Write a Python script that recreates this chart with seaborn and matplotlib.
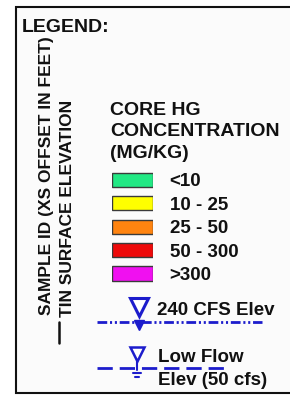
import matplotlib
matplotlib.use('Agg')
import matplotlib.pyplot as plt
import seaborn as sns
from matplotlib.patches import Rectangle

# legend content
title_lines = ['CORE HG', 'CONCENTRATION', '(MG/KG)']
class_labels = ['<10', '10 - 25', '25 - 50', '50 - 300', '>300']
class_colors = ['#22e884', '#ffff00', '#ff8410', '#ee0a0a', '#f010f0']
swatch_width = [1, 1, 1, 1, 1]
side_labels = ['SAMPLE ID (XS OFFSET IN FEET)', 'TIN SURFACE ELEVATION']
water_labels = ['240 CFS Elev', 'Low Flow\nElev (50 cfs)']
BLUE = '#1c1ccc'

sns.set_theme(style='white')
plt.rcParams['font.family'] = ['Liberation Sans', 'DejaVu Sans']
plt.rcParams['lines.scale_dashes'] = False

W, H = 290, 396
fig = plt.figure(figsize=(W / 100, H / 100), dpi=100)
fig.patch.set_facecolor('white')
ax = fig.add_axes([0, 0, 1, 1])
ax.set_xlim(0, W)
ax.set_ylim(H, 0)
ax.axis('off')

# frame
ax.add_patch(Rectangle((16, 7), 300, 386, fc='#fbfbfb', ec='#111111', lw=1.5))

ax.text(22, 32, 'LEGEND:', fontsize=14, fontweight='bold', color='#111111', va='baseline')

for i, line in enumerate(title_lines):
    ax.text(110, 115 + i * 21.5, line, fontsize=14, fontweight='bold', color='#111111', va='baseline')

# rotated side labels
ax.text(47, 315, side_labels[0], rotation=90, ha='center', va='bottom',
        fontsize=12.5, fontweight='bold', color='#111111')
ax.text(68, 317, side_labels[1], rotation=90, ha='center', va='bottom',
        fontsize=12.5, fontweight='bold', color='#111111')
ax.plot([58.5, 58.5], [322, 343], color='#111111', lw=1.8)

# colour swatches
sax = fig.add_axes([112 / W, 1 - 285.2 / H, 41 / W, 117 / H])
sns.barplot(x=swatch_width, y=class_labels, hue=class_labels, palette=class_colors,
            orient='h', width=0.6, saturation=1, edgecolor='#3a3a3a', linewidth=1,
            legend=False, ax=sax)
sax.set_xlim(0, 1)
sax.set_ylim(4.5, -0.5)
sax.patch.set_alpha(0)
for s in sax.spines.values():
    s.set_visible(False)
sax.set_xticks([])
sax.set_xlabel('')
sax.set_ylabel('')
sax.yaxis.tick_right()
sax.tick_params(axis='y', length=0, pad=12, labelsize=13.5, labelcolor='#111111')
for t in sax.get_yticklabels():
    t.set_fontweight('bold')

# 240 cfs water surface
ax.plot([97, 262], [322, 322], color=BLUE, lw=2, dashes=(7, 2, 1.5, 2, 1.5, 2))
ax.plot(139, 307, marker='v', ms=13, mfc='white', mec=BLUE, mew=2.2)
ax.plot(139, 325, marker='v', ms=7, color=BLUE)
ax.text(157, 315, water_labels[0], fontsize=13.5, fontweight='bold', color='#111111', va='baseline')

# low flow water surface
ax.plot([97, 228], [368, 368], color=BLUE, lw=2, dashes=(11, 5))
ax.plot(137, 354, marker='v', ms=10, mfc='white', mec=BLUE, mew=1.8)
ax.plot([137, 137], [360, 370], color=BLUE, lw=1.5)
ax.plot([133, 141], [373, 373], color=BLUE, lw=1.5)
ax.plot([135, 139], [377, 377], color=BLUE, lw=1.5)
low = water_labels[1].split('\n')
ax.text(158, 362, low[0], fontsize=13.5, fontweight='bold', color='#111111', va='baseline')
ax.text(158, 385, low[1], fontsize=13.5, fontweight='bold', color='#111111', va='baseline')

plt.savefig('out.png', dpi=100)
